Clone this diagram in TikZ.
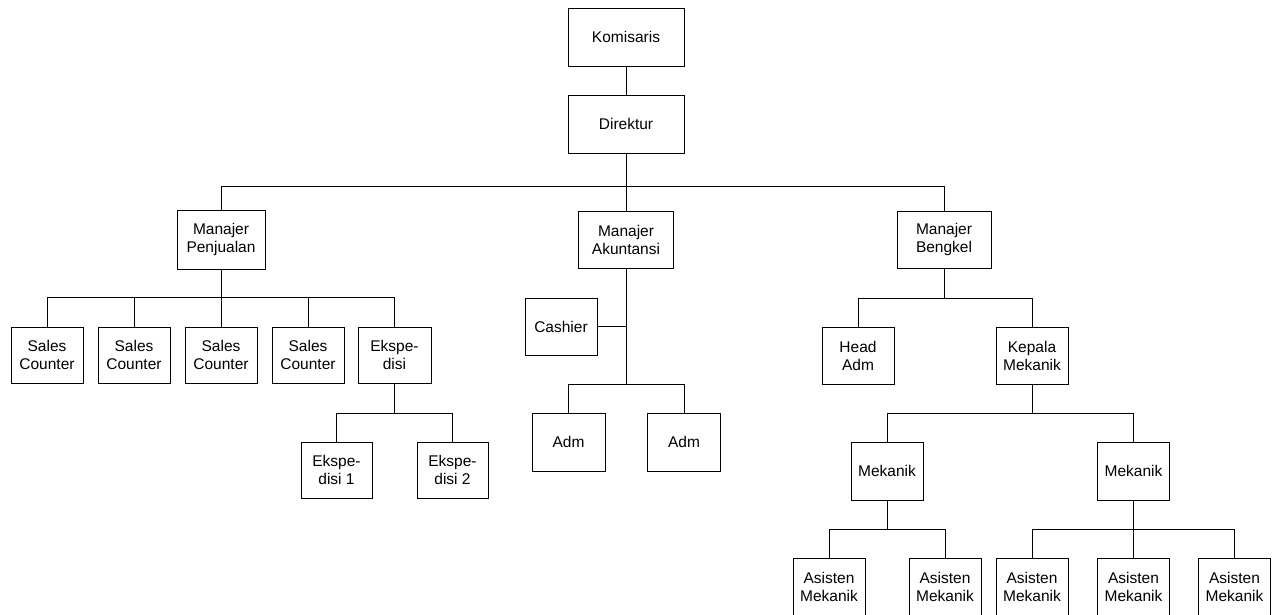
\documentclass[tikz,border=0pt]{standalone}
\usepackage{fontspec}
\setmainfont{Liberation Sans}
\begin{document}
\begin{tikzpicture}[x=1pt,y=-1pt,
  box/.style={draw,line width=0.9pt,inner sep=0pt,align=center,minimum width=72pt,minimum height=57pt,font=\fontsize{15.5}{18}\selectfont},
  link/.style={draw,line width=0.9pt}]
\useasboundingbox (0,0) rectangle (1280,614);
\clip (0,0) rectangle (1280,614);
\fill[white] (0,0) rectangle (1280,614);
% top
\node[box,minimum width=116pt,minimum height=58pt] (kom) at (626,37) {Komisaris};
\node[box,minimum width=116pt,minimum height=58pt] (dir) at (626,124) {Direktur};
% managers
\node[box,minimum width=88pt,minimum height=59pt] (mp) at (221,239.5) {Manajer\\Penjualan};
\node[box,minimum width=95pt] (ma) at (626,239.5) {Manajer\\Akuntansi};
\node[box,minimum width=94pt] (mb) at (944,239.5) {Manajer\\Bengkel};
% sales
\node[box,minimum height=56pt] (sc1) at (47,355) {Sales\\Counter};
\node[box,minimum height=56pt] (sc2) at (134,355) {Sales\\Counter};
\node[box,minimum height=56pt] (sc3) at (221,355) {Sales\\Counter};
\node[box,minimum height=56pt] (sc4) at (308,355) {Sales\\Counter};
\node[box,minimum height=56pt,minimum width=73pt] (eks) at (394.5,355) {Ekspe-\\disi};
\node[box,minimum height=56pt,minimum width=71pt] (e1) at (336.5,470) {Ekspe-\\disi 1};
\node[box,minimum height=56pt,minimum width=71pt] (e2) at (452.5,470) {Ekspe-\\disi 2};
% akuntansi
\node[box] (cash) at (561,326.5) {Cashier};
\node[box,minimum width=73pt,minimum height=58pt] (adm1) at (568.5,442) {Adm};
\node[box,minimum width=73pt,minimum height=58pt] (adm2) at (684,442) {Adm};
% bengkel
\node[box] (ha) at (858,355.5) {Head\\Adm};
\node[box] (km) at (1032,355.5) {Kepala\\Mekanik};
\node[box,minimum height=58pt] (mk1) at (887,471) {Mekanik};
\node[box,minimum height=58pt] (mk2) at (1133.5,471) {Mekanik};
\node[box,minimum height=58pt] (as1) at (829,587) {Asisten\\Mekanik};
\node[box,minimum height=58pt] (as2) at (945,587) {Asisten\\Mekanik};
\node[box,minimum height=58pt] (as3) at (1032,587) {Asisten\\Mekanik};
\node[box,minimum height=58pt] (as4) at (1133.5,587) {Asisten\\Mekanik};
\node[box,minimum height=58pt] (as5) at (1234.5,587) {Asisten\\Mekanik};
% bus coordinates
\coordinate (b0) at (626,186);
\coordinate (b1) at (221,297);
\coordinate (b2) at (394.5,413);
\coordinate (bc) at (626,326.5);
\coordinate (b3) at (626,384);
\coordinate (b4) at (944,298);
\coordinate (b5) at (1032,413);
\coordinate (b6) at (887,529);
\coordinate (b7) at (1133.5,529);
% links
\path[link] (kom) -- (dir);
\path[link] (dir) -- (b0);
\path[link] (b0) -| (mp.north);
\path[link] (b0) -- (ma.north);
\path[link] (b0) -| (mb.north);
\path[link] (mp) -- (b1);
\path[link] (b1) -| (sc1.north);
\path[link] (b1) -| (sc2.north);
\path[link] (b1) -- (sc3.north);
\path[link] (b1) -| (sc4.north);
\path[link] (b1) -| (eks.north);
\path[link] (eks) -- (b2);
\path[link] (b2) -| (e1.north);
\path[link] (b2) -| (e2.north);
\path[link] (ma) -- (bc);
\path[link] (cash) -- (bc);
\path[link] (bc) -- (b3);
\path[link] (b3) -| (adm1.north);
\path[link] (b3) -| (adm2.north);
\path[link] (mb) -- (b4);
\path[link] (b4) -| (ha.north);
\path[link] (b4) -| (km.north);
\path[link] (km) -- (b5);
\path[link] (b5) -| (mk1.north);
\path[link] (b5) -| (mk2.north);
\path[link] (mk1) -- (b6);
\path[link] (b6) -| (as1.north);
\path[link] (b6) -| (as2.north);
\path[link] (mk2) -- (b7);
\path[link] (b7) -| (as3.north);
\path[link] (b7) -- (as4.north);
\path[link] (b7) -| (as5.north);
\end{tikzpicture}
\end{document}
